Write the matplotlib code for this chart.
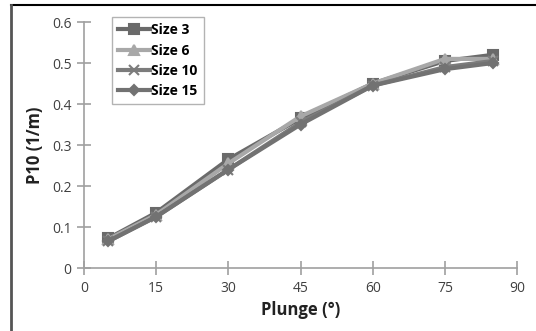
import matplotlib
matplotlib.use("Agg")
import matplotlib.pyplot as plt
from matplotlib.lines import Line2D

plunge = [5, 15, 30, 45, 60, 75, 85]
size3 = [0.072, 0.135, 0.265, 0.365, 0.450, 0.505, 0.520]
size6 = [0.070, 0.130, 0.255, 0.370, 0.450, 0.510, 0.510]
size10 = [0.065, 0.125, 0.240, 0.355, 0.445, 0.490, 0.505]
size15 = [0.065, 0.125, 0.240, 0.350, 0.445, 0.485, 0.500]
labels = ["Size 3", "Size 6", "Size 10", "Size 15"]

plt.rcParams['font.family'] = ['Open Sans', 'DejaVu Sans']

fig = plt.figure(figsize=(5.36, 3.31), dpi=100)
ax = fig.add_axes([0.1567, 0.1903, 0.808, 0.7432])

series = [size3, size6, size10, size15]
colors = ["#6a6a6a", "#a8a8a8", "#7c7c7c", "#727272"]
markers = ["s", "^", "x", "D"]
msizes = [7, 7, 7, 5]
for vals, c, m, ms, lab in zip(series, colors, markers, msizes, labels):
    ax.plot(plunge, vals, color=c, lw=3, marker=m, ms=ms, mew=1.5, label=lab)

ax.set_xlim(0, 90)
ax.set_ylim(0, 0.6)
ax.set_xticks(range(0, 91, 15))
ax.set_yticks([0, 0.1, 0.2, 0.3, 0.4, 0.5, 0.6])
ax.set_yticklabels(["0", "0.1", "0.2", "0.3", "0.4", "0.5", "0.6"])
for s in ["top", "right"]:
    ax.spines[s].set_visible(False)
for s in ["left", "bottom"]:
    ax.spines[s].set_color("#a0a0a0")
    ax.spines[s].set_linewidth(1.2)
ax.tick_params(direction="inout", length=10, width=1.2, color="#a0a0a0",
               labelsize=10, labelcolor="#404040", pad=4)

ax.set_xlabel("Plunge (°)", fontsize=12, fontweight="bold", color="#222222", labelpad=4)
ax.set_ylabel("P10 (1/m)", fontsize=12, fontweight="bold", color="#222222", labelpad=6)

leg = ax.legend(loc="upper left", bbox_to_anchor=(0.065, 1.02), frameon=True, fancybox=False,
                handlelength=2.3, handletextpad=0.05, labelspacing=0.45, borderpad=0.45,
                borderaxespad=0.0, prop={"size": 10, "weight": "bold"})
leg.get_frame().set_edgecolor("#a0a0a0")
leg.get_frame().set_linewidth(1.0)

# outer frame lines
fig.add_artist(Line2D([0.0205, 1.0], [0.985, 0.985], color="black", lw=1.5, transform=fig.transFigure))
fig.add_artist(Line2D([0.0205, 0.0205], [0.0, 0.985], color="#555555", lw=2, transform=fig.transFigure))

fig.savefig("out.png", dpi=100)
